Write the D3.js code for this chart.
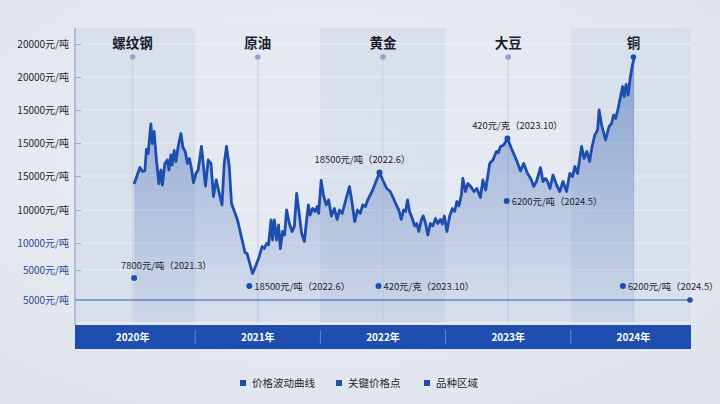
<!DOCTYPE html>
<html lang="zh">
<head>
<meta charset="utf-8" />
<script src="https://cdn.jsdelivr.net/npm/d3@7"></script>
<style>
  body { margin: 0; background: #e6eaf1; }
  svg { display: block; font-family: "Noto Sans CJK SC", "Noto Sans", sans-serif; }
</style>
</head>
<body>
<script>
// categories
var years = ["2020年", "2021年", "2022年", "2023年", "2024年"];
var varieties = ["螺纹钢", "原油", "黄金", "大豆", "铜"];

// y axis ticks (as printed on the picture)
var yTickValues = [25600, 22300, 19000, 15700, 12400, 9000, 5700, 3000, 0];
var yTickLabels = ["20000元/吨", "20000元/吨", "15000元/吨", "15000元/吨", "15000元/吨",
                   "10000元/吨", "10000元/吨", "5000元/吨", "5000元/吨"];

// price curve: decimal year, value
var priceDates = [
  2020.512, 2020.558, 2020.578, 2020.598, 2020.610, 2020.624, 2020.646, 2020.658, 2020.672, 2020.690,
  2020.710, 2020.726, 2020.738, 2020.758, 2020.778, 2020.790, 2020.806, 2020.816, 2020.832, 2020.846,
  2020.864, 2020.886, 2020.902, 2020.920, 2020.938, 2020.954, 2020.970, 2020.986, 2021.006, 2021.024,
  2021.050, 2021.082, 2021.104, 2021.126, 2021.146, 2021.168, 2021.186, 2021.214, 2021.232, 2021.250,
  2021.272, 2021.290, 2021.338, 2021.398, 2021.414, 2021.458,
  2021.486, 2021.512, 2021.534, 2021.552, 2021.570, 2021.586, 2021.606, 2021.618, 2021.632, 2021.650,
  2021.666, 2021.680, 2021.698, 2021.714, 2021.730, 2021.752, 2021.774, 2021.792, 2021.810, 2021.832,
  2021.850, 2021.872, 2021.890, 2021.904, 2021.918, 2021.938, 2021.958, 2021.974, 2021.986, 2022.006,
  2022.024, 2022.046, 2022.066, 2022.088, 2022.112, 2022.134, 2022.152, 2022.174, 2022.206, 2022.232,
  2022.254, 2022.274, 2022.296, 2022.318, 2022.338, 2022.360, 2022.378, 2022.418, 2022.472,
  2022.498, 2022.530, 2022.558, 2022.584, 2022.606, 2022.626, 2022.646, 2022.664, 2022.680, 2022.696,
  2022.712, 2022.734, 2022.752, 2022.770, 2022.786, 2022.806, 2022.822, 2022.840, 2022.858, 2022.878,
  2022.898, 2022.920, 2022.938, 2022.958, 2022.974, 2022.990, 2023.010, 2023.032, 2023.054, 2023.072,
  2023.090, 2023.106, 2023.126, 2023.138, 2023.158, 2023.178, 2023.200, 2023.226, 2023.250, 2023.278,
  2023.298, 2023.320, 2023.352, 2023.378, 2023.406, 2023.422, 2023.438, 2023.464, 2023.494,
  2023.526, 2023.566, 2023.598, 2023.624, 2023.654, 2023.680, 2023.704, 2023.726, 2023.758, 2023.778,
  2023.798, 2023.814, 2023.834, 2023.858, 2023.886, 2023.912, 2023.938, 2023.966, 2023.992, 2024.014,
  2024.032, 2024.054, 2024.086, 2024.106, 2024.128, 2024.150, 2024.170, 2024.192, 2024.214, 2024.226,
  2024.246, 2024.278, 2024.306, 2024.326, 2024.342, 2024.358, 2024.378, 2024.400, 2024.414, 2024.426,
  2024.442, 2024.458, 2024.474, 2024.490, 2024.506
];
var priceValues = [
  11600, 13250, 12850, 12900, 15050, 14650, 17600, 15650, 16850, 14000,
  11650, 13000, 11500, 13650, 14000, 13000, 14500, 13500, 14950, 13850,
  15350, 16650, 15250, 14850, 13650, 14150, 13150, 11750, 12650, 13000,
  15350, 11400, 14000, 13650, 10350, 12000, 11000, 9500, 13650, 15350,
  13350, 9650, 8000, 4750, 4650, 2650,
  3500, 4350, 5350, 5150, 5650, 5500, 8000, 6000, 8000, 6000,
  7500, 5150, 6850, 6500, 9000, 7650, 6850, 7350, 10650, 8500,
  6650, 5850, 8000, 9500, 8500, 9150, 8850, 9350, 8650, 11950,
  10500, 9500, 10000, 8400, 9150, 8050, 9000, 8650, 10150, 11350,
  9650, 7850, 9000, 8650, 9500, 9350, 10000, 11000, 12750,
  12000, 11150, 10850, 10150, 9500, 9000, 8050, 9000, 8850, 10000,
  8850, 8150, 7400, 7650, 6850, 8000, 8400, 7650, 6500, 7650,
  7400, 8150, 7650, 8050, 7600, 8400, 6850, 8350, 9150, 8850,
  9850, 9400, 10500, 12150, 10850, 11650, 11350, 10850, 11150, 10250,
  12000, 11000, 13650, 14000, 14850, 14750, 15350, 15500, 16150,
  15150, 14000, 12900, 13650, 12650, 12150, 11350, 11850, 13250, 11850,
  12150, 11850, 11150, 12500, 11500, 10850, 11850, 10850, 12650, 12350,
  13350, 12650, 15350, 14150, 14850, 13850, 15350, 16500, 17000, 19000,
  17500, 16000, 17350, 17650, 18500, 18150, 19150, 20500, 21350, 20350,
  21550, 20500, 22150, 23350, 24250
];

// key price points (loose markers)
var keyDates = [2020.512, 2021.432, 2022.464, 2023.488, 2024.416];
var keyValues = [2200, 1400, 1400, 9900, 1400];
var keyLabels = ["7800元/吨（2021.3）", "18500元/吨（2022.6）", "420元/克（2023.10）",
                 "6200元/吨（2024.5）", "6200元/吨（2024.5）"];

// peaks marked on the curve
var peakDates = [2022.472, 2023.494];
var peakLabels = ["18500元/吨（2022.6）", "420元/克（2023.10）"];
var peakValues = [12750, 16150];

var legendLabels = ["价格波动曲线", "关键价格点", "品种区域"];

var W = 720, H = 404;
var blue = "#1d4eae";

var svg = d3.select("body").append("svg")
  .attr("width", W).attr("height", H);

var defs = svg.append("defs");
var bg = defs.append("radialGradient").attr("id", "bg")
  .attr("cx", "45%").attr("cy", "40%").attr("r", "75%");
bg.append("stop").attr("offset", "0%").attr("stop-color", "#eceff5");
bg.append("stop").attr("offset", "100%").attr("stop-color", "#dfe4ec");
var ag = defs.append("linearGradient").attr("id", "areaFill")
  .attr("x1", 0).attr("y1", 0).attr("x2", 0).attr("y2", 1);
ag.append("stop").attr("offset", "0%").attr("stop-color", "#1d4eae").attr("stop-opacity", 0.42);
ag.append("stop").attr("offset", "100%").attr("stop-color", "#1d4eae").attr("stop-opacity", 0.06);

svg.append("rect").attr("width", W).attr("height", H).attr("fill", "url(#bg)");

var left = 75, right = 691;
var x = d3.scaleLinear().domain([2020, 2025]).range([70, 696]);
var y = d3.scaleLinear().domain([0, 26000]).range([300, 40]);
var yTop = 28, yBottom = 322;

// variety regions
svg.selectAll("rect.region")
  .data(varieties)
  .enter().append("rect")
  .attr("class", "region")
  .attr("x", function(d, i) { return Math.max(left, x(2020 + i)); })
  .attr("y", yTop)
  .attr("width", function(d, i) { return Math.min(right, x(2021 + i)) - Math.max(left, x(2020 + i)); })
  .attr("height", yBottom - yTop)
  .attr("fill", function(d, i) { return i % 2 === 0 ? "#d6deea" : "#e4e9f1"; })
  .attr("opacity", 0.85);

// grid lines
svg.selectAll("line.grid")
  .data(yTickValues.slice(0, yTickValues.length - 1))
  .enter().append("line")
  .attr("x1", left).attr("x2", right)
  .attr("y1", function(d) { return y(d); })
  .attr("y2", function(d) { return y(d); })
  .attr("stroke", "#ffffff").attr("stroke-opacity", 0.45).attr("stroke-width", 1);

// vertical guides for varieties
svg.selectAll("line.guide")
  .data(varieties)
  .enter().append("line")
  .attr("x1", function(d, i) { return x(2020.5 + i); })
  .attr("x2", function(d, i) { return x(2020.5 + i); })
  .attr("y1", y(24300)).attr("y2", yBottom)
  .attr("stroke", "#c8d1e2").attr("stroke-width", 1);

// area + line
var pts = priceDates.map(function(d, i) { return [d, priceValues[i]]; });
var area = d3.area()
  .x(function(d) { return x(d[0]); })
  .y0(yBottom)
  .y1(function(d) { return y(d[1]); });
svg.append("path").datum(pts).attr("d", area).attr("fill", "url(#areaFill)");

var line = d3.line()
  .x(function(d) { return x(d[0]); })
  .y(function(d) { return y(d[1]); });
svg.append("path").datum(pts).attr("d", line)
  .attr("fill", "none").attr("stroke", blue)
  .attr("stroke-width", 2.8).attr("stroke-linejoin", "round");

// baseline
svg.append("line")
  .attr("x1", left).attr("x2", x(2024.952))
  .attr("y1", y(0)).attr("y2", y(0))
  .attr("stroke", "#2a56b0").attr("stroke-width", 1.2);
svg.append("circle").attr("cx", x(2024.952)).attr("cy", y(0)).attr("r", 2.8).attr("fill", blue);

// y axis
var yAxis = d3.axisLeft(y)
  .tickValues(yTickValues)
  .tickSize(-6)
  .tickPadding(6)
  .tickFormat(function(d, i) { return yTickLabels[i]; });
var ga = svg.append("g").attr("transform", "translate(" + left + ",0)").call(yAxis);
ga.select(".domain").attr("stroke", "#7f92b8").attr("d", "M0," + yTop + "V" + (yBottom + 3));
ga.selectAll(".tick line").attr("stroke", "#9aaac8");
ga.selectAll(".tick text")
  .attr("font-size", 10)
  .attr("font-family", "'Noto Sans CJK SC', sans-serif")
  .attr("fill", function(d, i) { return i >= 6 ? "#2c4a94" : "#1f2636"; });

// variety titles and dots
svg.selectAll("text.variety")
  .data(varieties)
  .enter().append("text")
  .attr("x", function(d, i) { return x(2020.5 + i); })
  .attr("y", 48)
  .attr("text-anchor", "middle")
  .attr("font-size", 13.5).attr("font-weight", "bold").attr("fill", "#1a1d29")
  .text(function(d) { return d; });
svg.selectAll("circle.vdot")
  .data(varieties)
  .enter().append("circle")
  .attr("cx", function(d, i) { return x(2020.5 + i); })
  .attr("cy", y(24300)).attr("r", 2.8)
  .attr("fill", function(d, i) { return i === 4 ? blue : "#8ea5cb"; });

// key price points
svg.selectAll("circle.key")
  .data(keyValues)
  .enter().append("circle")
  .attr("cx", function(d, i) { return x(keyDates[i]); })
  .attr("cy", function(d) { return y(d); })
  .attr("r", 3).attr("fill", blue);
svg.selectAll("text.key")
  .data(keyLabels)
  .enter().append("text")
  .attr("x", function(d, i) { return x(keyDates[i]) + (i === 0 ? -13 : 5); })
  .attr("y", function(d, i) { return y(keyValues[i]) + (i === 0 ? -9 : 3.5); })
  .attr("font-size", 9.4).attr("fill", "#1f2636")
  .text(function(d) { return d; });

// peaks on the curve
svg.selectAll("circle.peak")
  .data(peakValues)
  .enter().append("circle")
  .attr("cx", function(d, i) { return x(peakDates[i]); })
  .attr("cy", function(d) { return y(d); })
  .attr("r", 3).attr("fill", blue);
svg.selectAll("text.peak")
  .data(peakLabels)
  .enter().append("text")
  .attr("x", function(d, i) { return x(peakDates[i]) + (i === 0 ? -17 : 10); })
  .attr("y", function(d, i) { return y(peakValues[i]) - 10; })
  .attr("text-anchor", "middle")
  .attr("font-size", 9.4).attr("fill", "#1f2636")
  .text(function(d) { return d; });

// year band
var band = svg.append("g");
band.append("rect").attr("x", left).attr("y", 325).attr("width", right - left).attr("height", 24)
  .attr("fill", "#1e4fb0");
band.selectAll("line.sep")
  .data(years.slice(1))
  .enter().append("line")
  .attr("x1", function(d, i) { return x(2021 + i); })
  .attr("x2", function(d, i) { return x(2021 + i); })
  .attr("y1", 330).attr("y2", 344)
  .attr("stroke", "#5f86cf").attr("stroke-width", 1);
band.selectAll("text.year")
  .data(years)
  .enter().append("text")
  .attr("x", function(d, i) { return x(2020.5 + i); })
  .attr("y", 341)
  .attr("text-anchor", "middle")
  .attr("font-size", 10).attr("font-weight", "bold").attr("fill", "#ffffff")
  .text(function(d) { return d; });

// legend
var legX = [243, 339, 427];
var leg = svg.selectAll("g.leg")
  .data(legendLabels)
  .enter().append("g")
  .attr("transform", function(d, i) { return "translate(" + legX[i] + ",383)"; });
leg.append("rect").attr("x", -3).attr("y", -3).attr("width", 6).attr("height", 6).attr("fill", blue);
leg.append("text").attr("x", 9).attr("y", 4)
  .attr("font-size", 10.5).attr("fill", "#1f2636")
  .text(function(d) { return d; });
</script>
</body>
</html>
